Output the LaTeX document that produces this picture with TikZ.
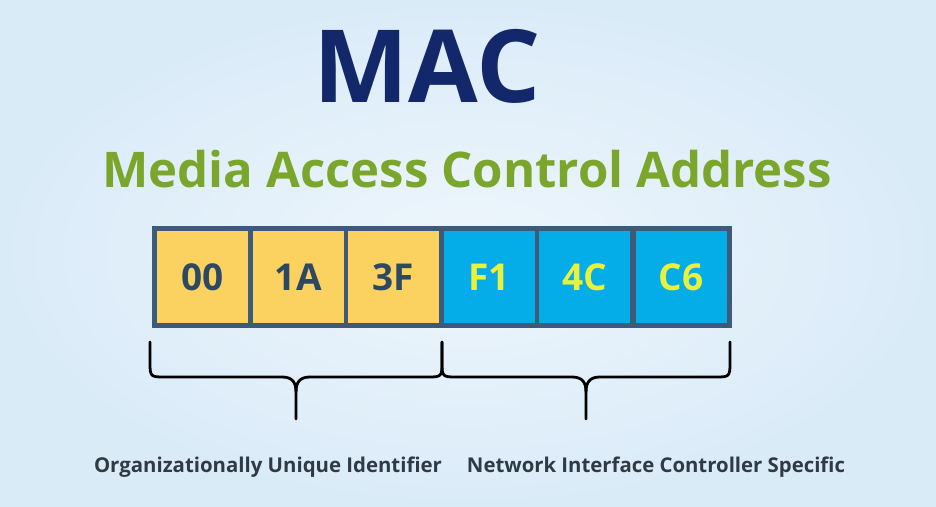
\documentclass[tikz,border=0pt]{standalone}
\usepackage{fontspec}
\setmainfont{Open Sans}
\usetikzlibrary{positioning}
\definecolor{bgout}{HTML}{DAEBF8}
\definecolor{bgin}{HTML}{EEF6FC}
\definecolor{navy}{HTML}{13286A}
\definecolor{olive}{HTML}{7BA62C}
\definecolor{frame}{HTML}{3D5B78}
\definecolor{oui}{HTML}{FBD160}
\definecolor{nic}{HTML}{04ADE8}
\definecolor{darktxt}{HTML}{2C4862}
\definecolor{ylwtxt}{HTML}{E8F23C}
\definecolor{lbl}{HTML}{2F3A44}
\tikzset{
  cellbox/.style={minimum width=91pt, minimum height=92pt, inner sep=0pt, anchor=north west, font=\bfseries\fontsize{37}{40}\selectfont},
  ouicell/.style={cellbox, fill=oui, text=darktxt},
  niccell/.style={cellbox, fill=nic, text=ylwtxt},
  bracepath/.style={draw=black, line width=2.8pt, line cap=round, line join=round},
  lblnode/.style={text=lbl, inner sep=0pt, anchor=base}
}
\begin{document}
\begin{tikzpicture}[x=1pt,y=-1pt]
\shade[inner color=bgin, outer color=bgout] (0,0) rectangle (936,506);
\useasboundingbox (0,0) rectangle (936,506);
% titles
\node[text=navy, inner sep=0pt, anchor=base, font=\bfseries\fontsize{101}{110}\selectfont] (mac) at (427,102) {MAC};
\node[text=olive, inner sep=0pt, anchor=base] (sub) at (467,187) {\resizebox{729pt}{!}{\bfseries Media Access Control Address}};
% frame
\node[fill=frame, minimum width=580pt, minimum height=102pt, inner sep=0pt, anchor=north west] (frm) at (152,226) {};
\node[ouicell] (c1) at (157,231) {00};
\node[ouicell] (c2) at (252.5,231) {1A};
\node[ouicell] (c3) at (347.5,231) {3F};
\node[niccell] (c4) at (443.5,231) {F1};
\node[niccell] (c5) at (539,231) {4C};
\node[niccell] (c6) at (635.5,231) {C6};
% braces
\coordinate (bl) at (150,342);
\coordinate (bm) at (442,342);
\coordinate (br) at (730,342);
\coordinate (t1) at (296,419);
\coordinate (t2) at (586,419);
\draw[bracepath] (bl) -- ++(0,22) .. controls ++(0,12) and ++(-12,0) .. (163,377) -- (282,377)
  .. controls (292,377) and (296,382) .. (296,392) -- (t1);
\draw[bracepath] (bm) -- ++(0,22) .. controls ++(0,12) and ++(12,0) .. (429,377) -- (310,377)
  .. controls (300,377) and (296,382) .. (296,392);
\draw[bracepath] (bm) -- ++(0,22) .. controls ++(0,12) and ++(-12,0) .. (455,377) -- (572,377)
  .. controls (582,377) and (586,382) .. (586,392) -- (t2);
\draw[bracepath] (br) -- ++(0,22) .. controls ++(0,12) and ++(12,0) .. (717,377) -- (600,377)
  .. controls (590,377) and (586,382) .. (586,392);
% labels
\node[lblnode] (l1) at (268,472) {\resizebox{348pt}{!}{\bfseries Organizationally Unique Identifier}};
\node[lblnode] (l2) at (656,472) {\resizebox{378pt}{!}{\bfseries Network Interface Controller Specific}};
\end{tikzpicture}
\end{document}
